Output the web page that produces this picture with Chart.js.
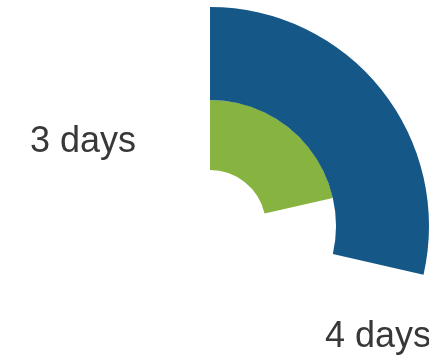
<!DOCTYPE html>
<html>
<head>
  <meta charset="utf-8">
  <title>Days</title>
  <script src="https://cdn.jsdelivr.net/npm/chart.js@4"></script>
  <style>
    html, body { margin: 0; padding: 0; background: #fff; overflow: hidden; }
    body { width: 438px; height: 358px; position: relative; }
    /* the ring is bigger than the window, so the canvas sticks out a little */
    #wrap { position: absolute; left: -9px; top: 7px; width: 438px; height: 438px; }
  </style>
</head>
<body>
  <div id="wrap"><canvas id="daysChart" width="438" height="438"></canvas></div>
  <script>
    // data
    const categories = ['4 days', '3 days'];
    const dayValues = [4, 3];
    const maxDays = 14;
    const ringColors = ['#155786', '#87b440'];

    // ring thickness (outer ring first) and label spots relative to the center
    const ringWeights = [93, 70];
    const labelOffsets = [[168, 121], [-127, -74]];

    // 标签插件
    const dayLabels = {
      id: 'dayLabels',
      afterDraw(chart) {
        const arc = chart.getDatasetMeta(0).data[0];
        const ctx = chart.ctx;
        ctx.save();
        ctx.font = '36px "Liberation Sans", Arial, sans-serif';
        ctx.fillStyle = '#383838';
        ctx.textAlign = 'center';
        ctx.textBaseline = 'alphabetic';
        categories.forEach((label, i) => {
          ctx.fillText(label, arc.x + labelOffsets[i][0], arc.y + labelOffsets[i][1]);
        });
        ctx.restore();
      }
    };

    new Chart(document.getElementById('daysChart'), {
      type: 'doughnut',
      data: {
        labels: ['done', 'rest'],
        datasets: dayValues.map((v, i) => ({
          label: categories[i],
          data: [v, maxDays - v],
          backgroundColor: [ringColors[i], 'rgba(0,0,0,0)'],
          borderWidth: 0,
          weight: ringWeights[i]
        }))
      },
      options: {
        responsive: false,
        animation: false,
        cutout: 56,
        layout: { padding: 0 },
        plugins: {
          legend: { display: false },
          tooltip: { enabled: false }
        }
      },
      plugins: [dayLabels]
    });
  </script>
</body>
</html>
